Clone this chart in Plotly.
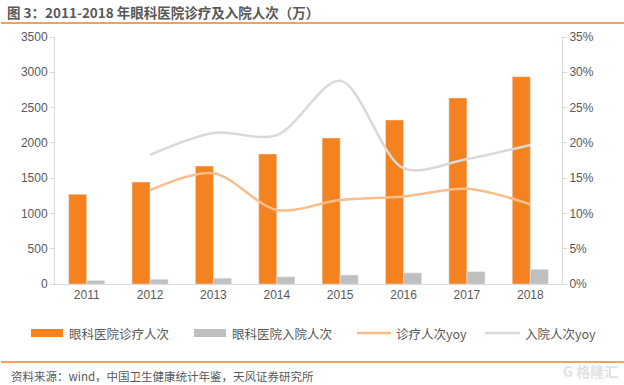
import plotly.graph_objects as go

years = ["2011", "2012", "2013", "2014", "2015", "2016", "2017", "2018"]
visits = [1272, 1445, 1672, 1842, 2069, 2324, 2636, 2938]
admissions = [50, 66, 82, 102, 128, 158, 175, 208]
visits_yoy = [None, 0.133, 0.157, 0.105, 0.119, 0.124, 0.135, 0.113]
adm_yoy = [None, 0.183, 0.214, 0.211, 0.288, 0.164, 0.177, 0.197]

names = ["眼科医院诊疗人次", "眼科医院入院人次", "诊疗人次yoy", "入院人次yoy"]
c_bar1 = "#F4821F"
c_bar2 = "#BFBFBF"
c_line1 = "#FABD8C"
c_line2 = "#D9D9D9"
txt = "#595959"
axc = "#D9D9D9"
FONT = "Liberation Sans, Noto Sans CJK SC, sans-serif"
CJK = "Noto Sans CJK SC, Liberation Sans, sans-serif"

fig = go.Figure()
fig.add_trace(go.Bar(x=years, y=visits, name=names[0], marker_color=c_bar1, showlegend=False))
fig.add_trace(go.Bar(x=years, y=admissions, name=names[1], marker_color=c_bar2, showlegend=False))
fig.add_trace(go.Scatter(x=years, y=visits_yoy, name=names[2], yaxis="y2", mode="lines",
                         line=dict(color=c_line1, width=2.5, shape="spline", smoothing=0.9),
                         showlegend=False))
fig.add_trace(go.Scatter(x=years, y=adm_yoy, name=names[3], yaxis="y2", mode="lines",
                         line=dict(color=c_line2, width=2.5, shape="spline", smoothing=0.9),
                         showlegend=False))

W, H = 624, 385
ml, mr, mt, mb = 55, 62, 37, 101

fig.update_layout(
    width=W, height=H,
    margin=dict(l=ml, r=mr, t=mt, b=mb),
    paper_bgcolor="white", plot_bgcolor="white",
    barmode="group", bargap=0.43, bargroupgap=0,
    font=dict(family=FONT, size=12, color=txt),
    xaxis=dict(showline=True, linecolor=axc, linewidth=1, ticks="", showgrid=False,
               tickfont=dict(size=12, color=txt), fixedrange=True),
    yaxis=dict(range=[0, 3500], dtick=500, showline=True, linecolor=axc, linewidth=1,
               ticks="outside", ticklen=4, tickcolor=axc, showgrid=False, zeroline=False,
               tickfont=dict(size=12, color=txt)),
    yaxis2=dict(range=[0, 0.35], dtick=0.05, tickformat=".0%", overlaying="y", side="right",
                showline=True, linecolor=axc, linewidth=1, ticks="outside", ticklen=4,
                tickcolor=axc, showgrid=False, zeroline=False,
                tickfont=dict(size=12, color=txt)),
)

shapes = []
annotations = []


def px_x(x):
    return (x - ml) / (W - ml - mr)


def px_y(y):
    return (H - mb - y) / (H - mt - mb)


annotations.append(dict(xref="paper", yref="paper", x=px_x(5), y=px_y(12),
                        xanchor="left", yanchor="middle", showarrow=False,
                        text="<b>图 3：2011-2018 年眼科医院诊疗及入院人次（万）</b>",
                        font=dict(family=CJK, size=13.5, color=txt)))

shapes.append(dict(type="line", xref="paper", yref="paper", x0=px_x(1), x1=px_x(W), y0=px_y(23), y1=px_y(23),
                   line=dict(color="#F5821F", width=1.5)))
shapes.append(dict(type="line", xref="paper", yref="paper", x0=px_x(1), x1=px_x(W), y0=px_y(362), y1=px_y(362),
                   line=dict(color="#F5821F", width=1.5)))
annotations.append(dict(xref="paper", yref="paper", x=px_x(9), y=px_y(376), xanchor="left", yanchor="middle",
                        showarrow=False, text="资料来源：wind，中国卫生健康统计年鉴，天风证券研究所",
                        font=dict(family=CJK, size=11.5, color=txt)))
annotations.append(dict(xref="paper", yref="paper", x=px_x(620), y=px_y(371), xanchor="right", yanchor="middle",
                        showarrow=False, text="<b>G 格隆汇</b>",
                        font=dict(family=CJK, size=14, color="#E2E2E2")))

# manual legend
ly = 333
leg = [
    ("bar", c_bar1, 31, 63, 67, names[0]),
    ("bar", c_bar2, 194, 226, 230, names[1]),
    ("line", c_line1, 357, 391, 394, names[2]),
    ("line", c_line2, 485, 520, 523, names[3]),
]
for kind, col, x0, x1, tx, label in leg:
    if kind == "bar":
        shapes.append(dict(type="rect", xref="paper", yref="paper", x0=px_x(x0), x1=px_x(x1),
                           y0=px_y(ly + 4), y1=px_y(ly - 4), fillcolor=col, line=dict(width=0)))
    else:
        shapes.append(dict(type="line", xref="paper", yref="paper", x0=px_x(x0), x1=px_x(x1),
                           y0=px_y(ly), y1=px_y(ly), line=dict(color=col, width=2.5)))
    annotations.append(dict(xref="paper", yref="paper", x=px_x(tx), y=px_y(ly), xanchor="left", yanchor="middle",
                            showarrow=False, text=label, font=dict(family=CJK, size=12.5, color=txt)))

fig.update_layout(shapes=shapes, annotations=annotations)
fig.write_html("out.html", config={"displayModeBar": False},
               post_script="document.body.style.margin='0';document.body.style.overflow='hidden';")
